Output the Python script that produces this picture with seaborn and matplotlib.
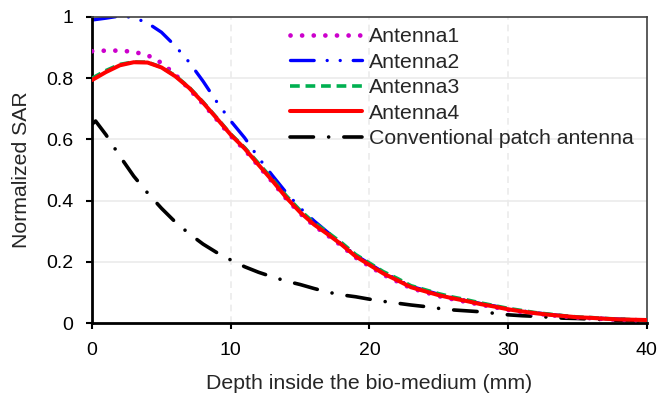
import matplotlib
matplotlib.use("Agg")
import matplotlib.pyplot as plt
import seaborn as sns
import pandas as pd
from matplotlib.ticker import FormatStrFormatter

depth = list(range(0, 41))

antenna1 = [0.888, 0.890, 0.890, 0.886, 0.875, 0.850, 0.812, 0.764, 0.716, 0.664,
            0.611, 0.566, 0.513, 0.461, 0.406, 0.358, 0.318, 0.286, 0.252, 0.214,
            0.186, 0.158, 0.136, 0.114, 0.101, 0.088, 0.078, 0.069, 0.060, 0.052,
            0.043, 0.036, 0.031, 0.026, 0.022, 0.018, 0.016, 0.013, 0.011, 0.010, 0.009]
antenna2 = [0.990, 0.996, 1.003, 0.998, 0.980, 0.950, 0.905, 0.852, 0.790, 0.722,
            0.660, 0.605, 0.540, 0.482, 0.426, 0.376, 0.334, 0.296, 0.258, 0.222,
            0.194, 0.166, 0.143, 0.120, 0.107, 0.094, 0.083, 0.074, 0.064, 0.056,
            0.047, 0.040, 0.034, 0.028, 0.024, 0.020, 0.017, 0.015, 0.013, 0.011, 0.010]
antenna3 = [0.800, 0.825, 0.845, 0.853, 0.852, 0.836, 0.808, 0.770, 0.722, 0.670,
            0.617, 0.573, 0.522, 0.470, 0.416, 0.368, 0.328, 0.296, 0.262, 0.224,
            0.196, 0.168, 0.146, 0.122, 0.109, 0.096, 0.085, 0.076, 0.066, 0.057,
            0.048, 0.041, 0.034, 0.029, 0.024, 0.020, 0.018, 0.015, 0.013, 0.011, 0.010]
antenna4 = [0.794, 0.820, 0.842, 0.852, 0.851, 0.835, 0.806, 0.768, 0.720, 0.668,
            0.615, 0.570, 0.517, 0.465, 0.410, 0.362, 0.322, 0.290, 0.256, 0.218,
            0.190, 0.162, 0.140, 0.117, 0.104, 0.091, 0.081, 0.072, 0.062, 0.054,
            0.045, 0.038, 0.032, 0.027, 0.023, 0.019, 0.017, 0.014, 0.012, 0.011, 0.010]

conv_depth = [0, 0.25] + list(range(1, 41))
conventional = [0.650, 0.660, 0.615, 0.545, 0.480, 0.425, 0.375, 0.330, 0.292, 0.258, 0.230,
                0.206, 0.184, 0.166, 0.151, 0.137, 0.126, 0.113, 0.101, 0.092, 0.086,
                0.078, 0.071, 0.065, 0.059, 0.054, 0.048, 0.043, 0.040, 0.037, 0.032,
                0.027, 0.024, 0.022, 0.019, 0.016, 0.015, 0.013, 0.011, 0.009, 0.008, 0.007]

labels = ["Antenna1", "Antenna2", "Antenna3", "Antenna4", "Conventional patch antenna"]

sns.set_style("white")
plt.rcParams['font.family'] = ['Liberation Sans', 'DejaVu Sans']

fig = plt.figure(figsize=(6.58, 3.94), dpi=100)
ax = fig.add_axes([0.14, 0.18, 0.843, 0.777])

df = pd.DataFrame({"depth": depth, "a1": antenna1, "a2": antenna2,
                   "a3": antenna3, "a4": antenna4})
dfc = pd.DataFrame({"depth": conv_depth, "conv": conventional})

sns.lineplot(data=df, x="depth", y="a1", ax=ax, color="#CC00CC", lw=3.4,
             linestyle=(0, (0.01, 2.45)), dash_capstyle="round", label=labels[0], zorder=3)
sns.lineplot(data=df, x="depth", y="a2", ax=ax, color="#0000FF", lw=2.4,
             linestyle=(0, (7.1, 3.9, 0.01, 3.9, 0.01, 3.9)), dash_capstyle="round",
             label=labels[1], zorder=2)
sns.lineplot(data=df, x="depth", y="a3", ax=ax, color="#00B050", lw=2.6,
             linestyle=(0, (2.7, 1.6)), label=labels[2], zorder=4)
sns.lineplot(data=df, x="depth", y="a4", ax=ax, color="#FF0000", lw=2.9,
             label=labels[3], zorder=5)
sns.lineplot(data=dfc, x="depth", y="conv", ax=ax, color="black", lw=2.6,
             linestyle=(0, (6.5, 4.2, 0.01, 4.2)), dash_capstyle="round",
             label=labels[4], zorder=2)

ax.set_xlim(0, 40)
ax.set_ylim(0, 1)
ax.set_xticks([0, 10, 20, 30, 40])
ax.set_yticks([0, 0.2, 0.4, 0.6, 0.8, 1.0])
ax.yaxis.set_major_formatter(FormatStrFormatter('%g'))

ax.grid(False)
for yv in [0.2, 0.4, 0.6, 0.8]:
    ax.axhline(yv, color="#EBEBEB", lw=1.2, zorder=0)
for xv in [10, 20, 30]:
    ax.axvline(xv, color="#EBEBEB", lw=1.2, ls=(0, (4, 3)), zorder=0)

for s in ["left", "bottom"]:
    ax.spines[s].set_color("black")
    ax.spines[s].set_linewidth(2.0)
for s in ["top", "right"]:
    ax.spines[s].set_color("#404040")
    ax.spines[s].set_linewidth(1.2)

ax.tick_params(axis="both", which="major", direction="out", length=4.5, width=1.5,
               color="black", labelsize=14, labelcolor="black", pad=9,
               left=True, bottom=True)

ax.set_xlabel("Depth inside the bio-medium (mm)", fontsize=15.3, labelpad=11)
ax.set_ylabel("Normalized SAR", fontsize=15.3, labelpad=11)

ax.legend(loc="upper left", bbox_to_anchor=(0.357, 0.967), frameon=False, fontsize=15.3,
          handlelength=3.4, handletextpad=0.3, labelspacing=0.31, borderaxespad=0,
          borderpad=0)

fig.savefig("out.png", dpi=100)
